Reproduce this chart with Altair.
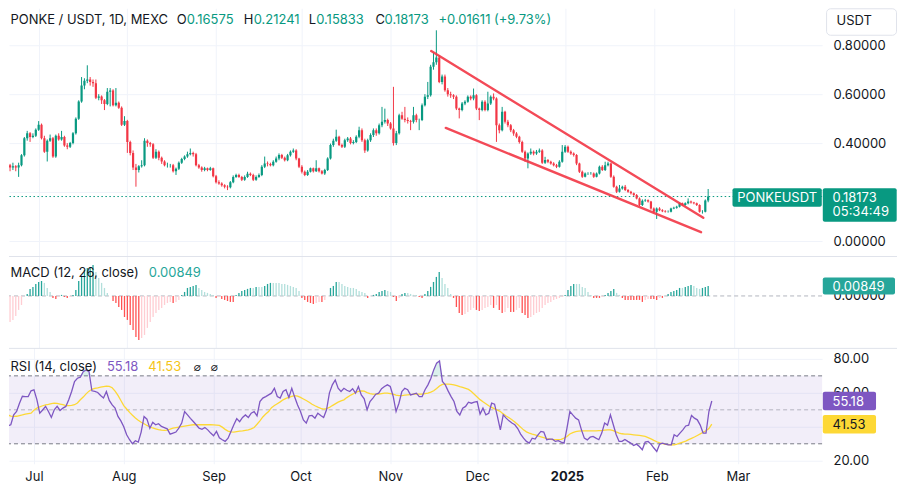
import altair as alt
import numpy as np
import pandas as pd

# ---------------- data ----------------
START_DATE = "2024-06-20"
FIRST_OPEN = 0.33

closes = [
    0.31, 0.30, 0.305, 0.30, 0.31, 0.35, 0.42, 0.44, 0.425, 0.43,
    0.455, 0.475, 0.42, 0.365, 0.41, 0.42, 0.345, 0.43, 0.415, 0.425,
    0.39, 0.385, 0.40, 0.44, 0.50, 0.57, 0.635, 0.655, 0.66, 0.65,
    0.645, 0.585, 0.59, 0.575, 0.56, 0.61, 0.615, 0.555, 0.565, 0.545,
    0.475, 0.49, 0.405, 0.36, 0.30, 0.29, 0.305, 0.31, 0.41, 0.40,
    0.395, 0.34, 0.365, 0.34, 0.325, 0.31, 0.31, 0.31, 0.285, 0.295,
    0.32, 0.335, 0.345, 0.355, 0.36, 0.355, 0.31, 0.30, 0.29, 0.297,
    0.29, 0.297, 0.265, 0.24, 0.235, 0.228, 0.222, 0.22, 0.24, 0.262,
    0.27, 0.262, 0.25, 0.262, 0.275, 0.27, 0.25, 0.262, 0.27, 0.303,
    0.317, 0.315, 0.31, 0.324, 0.337, 0.351, 0.34, 0.33, 0.35, 0.365,
    0.37, 0.337, 0.303, 0.283, 0.27, 0.283, 0.297, 0.285, 0.297, 0.285,
    0.276, 0.29, 0.337, 0.392, 0.41, 0.426, 0.392, 0.385, 0.412, 0.419,
    0.40, 0.405, 0.426, 0.453, 0.412, 0.37, 0.412, 0.433, 0.453, 0.44,
    0.473, 0.487, 0.494, 0.48, 0.46, 0.40, 0.44, 0.514, 0.50, 0.494,
    0.49, 0.487, 0.514, 0.494, 0.494, 0.555, 0.589, 0.596, 0.712, 0.73,
    0.75, 0.65, 0.672, 0.616, 0.60, 0.596, 0.589, 0.541, 0.535, 0.562,
    0.569, 0.589, 0.582, 0.596, 0.541, 0.535, 0.569, 0.535, 0.562, 0.589,
    0.582, 0.473, 0.453, 0.528, 0.487, 0.473, 0.453, 0.439, 0.426, 0.405,
    0.365, 0.337, 0.358, 0.365, 0.358, 0.365, 0.37, 0.32, 0.331, 0.324,
    0.317, 0.31, 0.303, 0.324, 0.365, 0.385, 0.365, 0.358, 0.351, 0.317,
    0.283, 0.263, 0.276, 0.276, 0.276, 0.263, 0.276, 0.303, 0.29, 0.31,
    0.317, 0.263, 0.222, 0.201, 0.215, 0.222, 0.208, 0.201, 0.195, 0.188,
    0.174, 0.147, 0.165, 0.167, 0.161, 0.133, 0.12, 0.133, 0.126, 0.122,
    0.12, 0.12, 0.133, 0.136, 0.14, 0.154, 0.147, 0.154, 0.161, 0.157,
    0.154, 0.147, 0.12, 0.12, 0.16575, 0.18173,
]

highs = [
    0.345, 0.315, 0.32, 0.31, 0.32, 0.355, 0.425, 0.45, 0.445, 0.44,
    0.46, 0.49, 0.48, 0.43, 0.415, 0.435, 0.425, 0.435, 0.44, 0.45,
    0.43, 0.40, 0.405, 0.445, 0.505, 0.575, 0.67, 0.665, 0.718, 0.67,
    0.66, 0.66, 0.60, 0.595, 0.58, 0.625, 0.625, 0.62, 0.625, 0.57,
    0.55, 0.51, 0.495, 0.41, 0.37, 0.315, 0.31, 0.33, 0.42, 0.415,
    0.405, 0.40, 0.375, 0.37, 0.345, 0.33, 0.32, 0.315, 0.315, 0.30,
    0.325, 0.34, 0.35, 0.365, 0.378, 0.365, 0.36, 0.315, 0.305, 0.303,
    0.30, 0.303, 0.30, 0.27, 0.248, 0.24, 0.232, 0.228, 0.245, 0.268,
    0.275, 0.275, 0.266, 0.268, 0.283, 0.28, 0.275, 0.268, 0.276, 0.31,
    0.345, 0.325, 0.32, 0.33, 0.345, 0.358, 0.356, 0.345, 0.356, 0.37,
    0.378, 0.375, 0.34, 0.31, 0.288, 0.29, 0.30, 0.30, 0.33, 0.30,
    0.29, 0.295, 0.342, 0.398, 0.418, 0.455, 0.43, 0.398, 0.418, 0.425,
    0.425, 0.412, 0.432, 0.467, 0.46, 0.418, 0.418, 0.44, 0.46, 0.46,
    0.48, 0.548, 0.541, 0.50, 0.486, 0.63, 0.45, 0.52, 0.528, 0.548,
    0.505, 0.495, 0.548, 0.52, 0.50, 0.562, 0.60, 0.65, 0.72, 0.77,
    0.861, 0.76, 0.68, 0.68, 0.625, 0.61, 0.60, 0.595, 0.545, 0.568,
    0.575, 0.595, 0.595, 0.623, 0.60, 0.545, 0.575, 0.575, 0.61, 0.595,
    0.603, 0.587, 0.48, 0.548, 0.532, 0.495, 0.478, 0.458, 0.445, 0.43,
    0.41, 0.37, 0.362, 0.378, 0.37, 0.372, 0.378, 0.375, 0.344, 0.335,
    0.328, 0.322, 0.315, 0.33, 0.392, 0.392, 0.39, 0.37, 0.362, 0.355,
    0.32, 0.288, 0.28, 0.281, 0.282, 0.28, 0.28, 0.308, 0.31, 0.324,
    0.324, 0.32, 0.268, 0.226, 0.229, 0.226, 0.229, 0.212, 0.205, 0.198,
    0.192, 0.178, 0.17, 0.172, 0.17, 0.164, 0.137, 0.137, 0.138, 0.13,
    0.126, 0.125, 0.136, 0.14, 0.144, 0.157, 0.157, 0.158, 0.174, 0.165,
    0.16, 0.157, 0.15, 0.126, 0.17, 0.21241,
]

lows = [
    0.295, 0.285, 0.29, 0.285, 0.262, 0.305, 0.345, 0.41, 0.405, 0.42,
    0.425, 0.45, 0.415, 0.36, 0.325, 0.405, 0.34, 0.34, 0.41, 0.41,
    0.385, 0.375, 0.38, 0.395, 0.435, 0.495, 0.565, 0.62, 0.645, 0.635,
    0.63, 0.58, 0.575, 0.56, 0.535, 0.555, 0.55, 0.55, 0.55, 0.54,
    0.47, 0.47, 0.36, 0.35, 0.29, 0.222, 0.28, 0.30, 0.305, 0.385,
    0.385, 0.335, 0.335, 0.33, 0.315, 0.305, 0.30, 0.30, 0.28, 0.27,
    0.29, 0.315, 0.33, 0.34, 0.35, 0.345, 0.305, 0.295, 0.283, 0.285,
    0.285, 0.287, 0.26, 0.235, 0.23, 0.222, 0.215, 0.208, 0.215, 0.236,
    0.258, 0.258, 0.245, 0.246, 0.258, 0.265, 0.245, 0.246, 0.258, 0.265,
    0.298, 0.305, 0.305, 0.305, 0.32, 0.33, 0.335, 0.325, 0.326, 0.345,
    0.36, 0.33, 0.298, 0.276, 0.265, 0.266, 0.28, 0.28, 0.282, 0.28,
    0.272, 0.27, 0.286, 0.333, 0.385, 0.405, 0.388, 0.38, 0.38, 0.405,
    0.395, 0.395, 0.40, 0.42, 0.405, 0.36, 0.365, 0.405, 0.425, 0.43,
    0.435, 0.465, 0.48, 0.47, 0.455, 0.39, 0.392, 0.435, 0.495, 0.485,
    0.48, 0.453, 0.48, 0.485, 0.453, 0.49, 0.55, 0.58, 0.59, 0.70,
    0.72, 0.645, 0.64, 0.61, 0.59, 0.585, 0.58, 0.535, 0.501, 0.53,
    0.555, 0.565, 0.575, 0.575, 0.535, 0.494, 0.53, 0.53, 0.53, 0.556,
    0.575, 0.405, 0.44, 0.448, 0.48, 0.465, 0.445, 0.43, 0.42, 0.398,
    0.36, 0.324, 0.297, 0.352, 0.35, 0.352, 0.36, 0.315, 0.315, 0.318,
    0.312, 0.305, 0.298, 0.30, 0.32, 0.36, 0.36, 0.352, 0.345, 0.31,
    0.278, 0.258, 0.26, 0.27, 0.271, 0.258, 0.26, 0.272, 0.286, 0.286,
    0.305, 0.258, 0.218, 0.196, 0.198, 0.21, 0.204, 0.197, 0.19, 0.183,
    0.17, 0.143, 0.143, 0.16, 0.157, 0.128, 0.115, 0.09, 0.122, 0.118,
    0.116, 0.116, 0.117, 0.13, 0.132, 0.137, 0.143, 0.144, 0.15, 0.153,
    0.15, 0.143, 0.116, 0.112, 0.117, 0.15833,
]

macd_hist = [
    -.0230, -.0221, -.0204, -.0170, -.0119, -.0077, 0, .0017, .0060, .0077,
    .0102, .0119, .0128, .0111, .0068, .0034, -.0017, -.0026, -.0009, .0009,
    -.0009, -.0017, -.0009, .0009, .0051, .0128, .0162, .0221, .0238, .0247,
    .0264, .0204, .0153, .0111, .0068, .0026, 0, -.0043, -.0060, -.0094,
    -.0119, -.0179, -.0204, -.0247, -.0289, -.0349, -.0374, -.0357, -.0332, -.0272,
    -.0221, -.0179, -.0145, -.0119, -.0102, -.0077, -.0060, -.0051, -.0060, -.0051,
    -.0034, .0009, .0034, .0068, .0077, .0085, .0094, .0068, .0051, .0034,
    .0026, .0017, .0009, -.0017, -.0009, -.0026, -.0034, -.0043, -.0051, -.0051,
    .0009, .0026, .0043, .0051, .0060, .0068, .0068, .0077, .0077, .0077,
    .0085, .0102, .0111, .0111, .0111, .0111, .0102, .0102, .0094, .0085,
    .0077, .0068, .0043, -.0017, -.0034, -.0051, -.0060, -.0068, -.0060, -.0051,
    -.0051, -.0034, 0, .0068, .0085, .0119, .0119, .0102, .0085, .0077,
    .0068, .0068, .0060, .0043, .0034, .0026, -.0017, 0, .0009, .0017,
    .0034, .0043, .0051, .0043, .0034, -.0009, -.0043, -.0017, .0017, .0026,
    .0026, .0017, .0009, .0009, -.0009, -.0017, .0017, .0043, .0077, .0119,
    .0162, .0204, .0153, .0102, .0068,
    .0017, -.0017, -.0094, -.0145, -.0162, -.0153, -.0136, -.0119, -.0102, -.0119,
    -.0128, -.0119, -.0102, -.0094, -.0077, -.0102, -.0077, -.0119, -.0145, -.0136,
    -.0102, -.0136, -.0136, -.0119, -.0102, -.0145, -.0162, -.0187, -.0179, -.0162,
    -.0145, -.0136, -.0102, -.0077, -.0060, -.0051, -.0034, -.0026, -.0017, -.0009,
    .0009, .0051, .0085, .0102, .0102, .0102, .0077, .0068, .0034, .0009,
    -.0017, -.0017, -.0017, -.0009, .0009, .0026, .0043, .0060, .0026, .0009,
    -.0017, -.0034, -.0034, -.0034, -.0034, -.0034, -.0034, -.0051, -.0034, -.0026,
    -.0026, -.0026, -.0034, -.0017, -.0017, 0, .0017, .0034, .0043, .0051,
    .0068, .0068, .0077, .0085, .0094, .0085, .0068, .0060, .0068, .0077,
    .00849,
]

rsi = [
    39.5, 40.6, 40.6, 41.2, 47, 49, 53.9, 58, 57.8, 57.8,
    61.2, 61.8, 56, 48, 49.9, 52, 49, 45.5, 50, 52,
    49.6, 51, 52, 55.9, 60.8, 66.7, 68.6, 69.2, 72.5, 73.5,
    72.5, 61.2, 60.8, 60.2, 58.4, 57, 60.8, 55.5, 52.9, 51,
    46.1, 43.5, 40, 35.3, 32.4, 30, 31.8, 31, 36.9, 46.1,
    44.5, 39.2, 42.7, 41.2, 41.8, 40.2, 39.5, 38.8, 35.7, 36.3,
    36.9, 39.2, 42.2, 49, 47, 45, 43.1, 41.2, 39.2, 38.5,
    39.6, 38.2, 36.3, 34.7, 37.3, 33.5, 32.4, 31.4, 33.3, 37.3,
    41.2, 44.8, 43, 45.5, 47, 45.5, 48, 49, 46.5, 54.9,
    56.9, 57.8, 58.8, 59.8, 62.7, 57.8, 56.9, 60.8, 61.8, 57.3,
    62.7, 57.5, 52.9, 49, 44.1, 42.2, 46.5, 46.7, 45.1, 48,
    46.7, 45.5, 50, 60, 64.7, 67.6, 62.7, 60.8, 62.7, 61.5,
    60.8, 62.4, 59.8, 63.7, 58.8, 56.5, 50, 54.9, 56.9, 59.2,
    59.8, 62.4, 63.7, 64.7, 63.7, 58, 49, 53.9, 60.8, 62.7,
    61.8, 58.8, 59.3, 59.8, 57.8, 57.8, 61.8, 64.7, 68.5, 73.5,
    77.5, 78.8, 66.7, 64.7, 61,
    57.8, 54.9, 49, 47, 51, 52, 54.5, 53.9, 54.5, 54.9,
    47.5, 51, 47, 48, 53.9, 53.3, 46, 38.2, 47, 45.1,
    43.5, 42.2, 41.2, 39, 35.7, 33.3, 31.4, 30.4, 33.3, 32.8,
    35.3, 37.3, 36.9, 32.4, 32.7, 32.7, 31.4, 31.8, 31, 30.4,
    39.2, 49, 47, 45.1, 44.1, 38.2, 33.3, 32.3, 33.9, 34.3,
    33.3, 32.4, 36.3, 42.2, 41, 47, 41.2, 35.3, 31.4, 31.4,
    32.5, 31.4, 30.4, 29, 29.8, 28.4, 26.5, 31, 31.4, 29.8,
    27.5, 25.5, 29.8, 30.4, 29.8, 29.4, 29.4, 35.3, 34.3, 36.3,
    38.2, 40.5, 41, 46.7, 45.1, 44.1, 41, 36.3, 36.3, 49,
    55.18,
]

rsi_ma = [
    50, 48.5, 47, 46.3, 46.1, 46.2, 46.6, 47, 47.5, 47.8,
    48, 49.8, 51, 51.8, 52.4, 52.9, 53.2, 53.6, 53.9, 53.8,
    53.4, 53, 52.5, 52.5, 52.6, 53, 54, 55.9, 57.5, 59.4,
    61, 62.1, 62.6, 62.9, 63.3, 63.6, 63.9, 63.8, 63, 61,
    58.5, 55.5, 52.5, 50.5, 48.5, 46.8, 45.2, 43.9, 42.7, 41.8,
    40.8, 39.9, 39.3, 38.8, 38.3, 38, 37.9, 38.1, 38.6, 39.2,
    39.5, 39.8, 40.1, 40.4, 40.7, 41, 41.2, 41.2, 41.2, 41.2,
    41.2, 41.2, 41.2, 41.1, 41, 40.8, 39.8, 38.5, 37.5, 37,
    36.9, 37.2, 37.4, 37.6, 37.9, 38.2, 38.8, 39.6, 41.5, 43.5,
    45.8, 47.5, 49, 51.3, 52.5, 53.6, 54.7, 55.9, 56.7, 57.3,
    57.9, 58.4, 58, 57.3, 56.4, 55.5, 54.5, 53.3, 52.4, 51.6,
    50.9, 50.4, 50.7, 51.4, 52.5, 53.5, 54.5, 55.3, 55.9, 57.2,
    58.3, 59.2, 60.2, 60.8, 61.1, 61, 60.1, 59.6, 59.3, 59.2,
    59.2, 59.6, 59.8, 59.8, 59.6, 59.2, 58.7, 58.4, 58.4, 58.6,
    58.8, 59, 59.2, 59.2, 59.2, 59.2, 59.5, 59.8, 60.4, 61.2,
    62.5, 64, 65, 65.1, 65.1, 65, 64.7, 64.3, 63.7, 63.2,
    62.6, 62, 60.8, 59.2, 57.6, 56, 54.7, 53.6, 52.4, 51.4,
    50.6, 49.8, 49, 47.6, 46.4, 45.3, 44.1, 42.8, 41.3, 39.8,
    38.2, 37, 36.3, 35.7, 35.3, 34.6, 34.1, 33.6, 33.1, 32.7,
    32.5, 32.4, 32.4, 32.6, 33.3, 34.3, 35.8, 36.6, 37.2, 37.4,
    37.6, 37.6, 37.6, 37.6, 37.6, 37.6, 37.7, 37.8, 38, 38.2,
    38.2, 37.8, 37, 36.3, 35.9, 35.7, 35.7, 35.5, 35.3, 35.1,
    34.9, 34.6, 34.3, 33.6, 32.9, 32, 31.2, 30.6, 30.1, 29.7,
    29.5, 29.4, 29.4, 29.8, 30.4, 31, 31.6, 32.4, 33.2, 34,
    34.9, 35.8, 36.8, 37.7, 39, 41.53,
]

month_starts = [(2024, 7), (2024, 8), (2024, 9), (2024, 10), (2024, 11),
                (2024, 12), (2025, 1), (2025, 2), (2025, 3)]
price_ticks = [0.0, 0.2, 0.4, 0.6, 0.8]
rsi_ticks = [20, 40, 60, 80]
rsi_bands = [70, 30]
rsi_mid = [50]

wedge_lines = ["upper", "upper", "lower", "lower"]
wedge_dates = ["2024-11-15T05:00:00", "2025-02-18T07:00:00",
               "2024-11-20T07:00:00", "2025-02-17T12:00:00"]
wedge_prices = [0.776, 0.095, 0.462, 0.036]

symbol_text = "PONKE / USDT, 1D, MEXC"
ohlc_labels = ["O", "H", "L", "C"]
ohlc_values = ["0.16575", "0.21241", "0.15833", "0.18173"]
change_text = "+0.01611 (+9.73%)"
countdown = "05:34:49"
macd_value = 0.00849
rsi_value = 55.18
rsi_ma_value = 41.53

# ---------------- styling ----------------
FONT = "Inter"
TXT = "#131722"
UP = "#089981"
DOWN = "#F23645"
GRID = "#f0f3fa"
SEP = "#e0e3eb"
PURPLE = "#7E57C2"
YELLOW = "#FDD835"
W = 814
H_PRICE, H_MACD, H_RSI = 248, 92, 116

# ---------------- frame ----------------
dates = pd.date_range(START_DATE, periods=len(closes), freq="D")
opens = [FIRST_OPEN] + closes[:-1]
df = pd.DataFrame({
    "date": dates.strftime("%Y-%m-%dT%H:%M:%S"),
    "open": opens, "high": highs, "low": lows, "close": closes,
    "hist": macd_hist, "rsi": rsi, "rsi_ma": rsi_ma,
})
df["dir"] = np.where(df["close"] >= df["open"], "up", "down")
prev = df["hist"].shift(1).fillna(0)
df["mcol"] = np.where(
    df["hist"] >= 0,
    np.where(prev < df["hist"], "#26A69A", "#B2DFDB"),
    np.where(prev < df["hist"], "#FFCDD2", "#FF5252"),
)
df["ob"] = df["rsi"].clip(lower=70)

wedge_df = pd.DataFrame({"line": wedge_lines, "date": wedge_dates, "price": wedge_prices})
ONE = pd.DataFrame({"k": [0]})

# ---------------- scales / axes ----------------
xscale = alt.Scale(domain=[alt.DateTime(year=2024, month=6, date=22, hours=9, minutes=6),
                           alt.DateTime(year=2025, month=3, date=30, hours=1, minutes=41)])
month_vals = [alt.DateTime(year=y, month=m, date=1) for y, m in month_starts]
ax_grid = alt.Axis(values=month_vals, grid=True, gridColor=GRID, labels=False,
                   ticks=False, domain=False, title=None)
ax_time = alt.Axis(values=month_vals, grid=True, gridColor=GRID, ticks=False, domain=False,
                   title=None, labelPadding=7, labelFontSize=13, labelColor=TXT,
                   labelExpr="month(datum.value) == 0 ? timeFormat(datum.value, '%Y') : timeFormat(datum.value, '%b')",
                   labelFontWeight={"condition": {"test": "month(datum.value) == 0", "value": "bold"},
                                    "value": "normal"})
XG = alt.X("date:T", scale=xscale, axis=ax_grid, title=None)
XT = alt.X("date:T", scale=xscale, axis=ax_time, title=None)

pscale = alt.Scale(domain=[-0.06122, 0.95102], nice=False, zero=False)
pax = alt.Axis(orient="right", values=price_ticks, grid=True, gridColor=GRID, ticks=False,
               tickSize=0, domain=False, labelPadding=11, title=None, labelFontSize=13,
               labelColor=TXT,
               labelExpr="datum.value == 0.2 ? '' : format(datum.value, '.5f')")
mscale = alt.Scale(domain=[-0.0442, 0.034], nice=False, zero=False)
max_ = alt.Axis(orient="right", values=[0], format=".5f", grid=False, ticks=False, tickSize=0,
                domain=False, labelPadding=11, title=None, labelFontSize=13, labelColor=TXT)
rscale = alt.Scale(domain=[18.24, 86.47], nice=False, zero=False)
rax = alt.Axis(orient="right", values=rsi_ticks, grid=True, gridColor=GRID,
               ticks=False, tickSize=0, domain=False, labelPadding=11, title=None,
               labelFontSize=13, labelColor=TXT,
               labelExpr="datum.value == 40 ? '' : format(datum.value, '.2f')")


def PY(field=None, datum=None):
    if datum is not None:
        return alt.Y(datum=datum, type="quantitative", scale=pscale, axis=pax, title=None)
    return alt.Y(field, type="quantitative", scale=pscale, axis=pax, title=None)


def MY(field=None, datum=None):
    if datum is not None:
        return alt.Y(datum=datum, type="quantitative", scale=mscale, axis=max_, title=None)
    return alt.Y(field, type="quantitative", scale=mscale, axis=max_, title=None)


def RY(field=None, datum=None):
    if datum is not None:
        return alt.Y(datum=datum, type="quantitative", scale=rscale, axis=rax, title=None)
    return alt.Y(field, type="quantitative", scale=rscale, axis=rax, title=None)


def txt(text, x, y, color=TXT, size=13, weight="normal", font=FONT, align="left"):
    return alt.Chart(ONE).mark_text(text=text, align=align, baseline="middle", color=color,
                                    fontSize=size, fontWeight=weight, font=font).encode(
        x=alt.value(x), y=alt.value(y))


def tag(Yf, v, x0, x1, top, bottom, fill, lines, text_color="white", x_text=824.5,
        align="left", size=13):
    layers = [alt.Chart(ONE).mark_rect(fill=fill, yOffset=top, y2Offset=bottom, cornerRadius=2).encode(
        x=alt.value(x0), x2=alt.value(x1), y=Yf(datum=v), y2=alt.Y2(datum=v))]
    for t, dy in lines:
        layers.append(alt.Chart(ONE).mark_text(text=t, align=align, baseline="middle", dy=dy,
                                               color=text_color, fontSize=size, font=FONT).encode(
            x=alt.value(x_text), y=Yf(datum=v)))
    return layers


dircolor = alt.Color("dir:N", scale=alt.Scale(domain=["up", "down"], range=[UP, DOWN]), legend=None)
base = alt.Chart(df)

# ---------------- price panel ----------------
wicks = base.mark_rule(strokeWidth=1, clip=True).encode(x=XG, y=PY("low"), y2="high:Q", color=dircolor)
bodies = base.mark_bar(size=2.2, clip=True).encode(x=XG, y=PY("open"), y2="close:Q", color=dircolor)
wedge = alt.Chart(wedge_df).mark_line(color=DOWN, strokeWidth=2.4, strokeCap="round", opacity=0.9,
                                      clip=True).encode(x=XG, y=PY("price"), detail="line:N")
last_line = alt.Chart(pd.DataFrame({"c": [closes[-1]]})).mark_rule(
    color=UP, strokeDash=[1.5, 2.5], strokeWidth=1).encode(y=PY("c"))

price_layers = [last_line, wicks, bodies, wedge]
price_layers.append(txt(symbol_text, 1.5, 12, size=13))
ohlc_x = [(168, 178), (235, 245), (300, 307.5), (367, 376)]
for (lx, vx), lab, val in zip(ohlc_x, ohlc_labels, ohlc_values):
    price_layers.append(txt(lab, lx, 12))
    price_layers.append(txt(val, vx, 12, color=UP))
price_layers.append(txt(change_text, 430, 12, color=UP))
# currency box
price_layers.append(alt.Chart(ONE).mark_rect(fill="white", stroke=SEP, strokeWidth=1, cornerRadius=4).encode(
    x=alt.value(818.5), x2=alt.value(888.5), y=alt.value(0.5), y2=alt.value(27)))
price_layers.append(txt("USDT", 828.5, 13))
# symbol + last price tags
price_layers += tag(PY, closes[-1], 724.3, 813.7, -8.2, 10.2, UP, [("PONKEUSDT", 1)],
                    x_text=769, align="center", size=13)
price_layers += tag(PY, closes[-1], 814.7, 888.7, -8.2, 25.2, UP,
                    [("%.5f" % closes[-1], 1), (countdown, 15.5)])
price = alt.layer(*price_layers).properties(width=W, height=H_PRICE)

# ---------------- MACD panel ----------------
sep_m = alt.Chart(ONE).mark_rule(color=SEP, strokeWidth=1).encode(
    x=alt.value(0), x2=alt.value(889), y=alt.value(0.5))
zero = alt.Chart(pd.DataFrame({"z": [0.0]})).mark_rule(color="#B2B5BE", strokeDash=[4, 3]).encode(y=MY("z"))
bars = base.mark_bar(size=1.3, clip=True).encode(
    x=XG, y=MY("hist"), y2=alt.Y2(datum=0), color=alt.Color("mcol:N", scale=None))
macd_layers = [zero, bars, sep_m,
               txt("MACD (12, 26, close)", 1.5, 17.3),
               txt("%.5f" % macd_value, 140, 17.3, color="#26A69A")]
macd_layers += tag(MY, macd_value, 814.7, 887, -8.5, 8.5, "#26A69A", [("%.5f" % macd_value, 1)])
macd = alt.layer(*macd_layers).properties(width=W, height=H_MACD)

# ---------------- RSI panel ----------------
rbase = alt.Chart(df)
band = alt.Chart(ONE).mark_rect(color=PURPLE, opacity=0.1).encode(
    x=alt.value(0), x2=alt.value(W), y=RY(datum=rsi_bands[0]), y2=alt.Y2(datum=rsi_bands[1]))
band_lines = alt.Chart(pd.DataFrame({"lv": rsi_bands})).mark_rule(
    color="#787B86", strokeDash=[4, 3], strokeWidth=1).encode(y=RY("lv"))
mid_line = alt.Chart(pd.DataFrame({"lv": rsi_mid})).mark_rule(
    color="#787B86", strokeDash=[4, 3], strokeWidth=1, opacity=0.5).encode(y=RY("lv"))
ob_area = rbase.mark_area(color=UP, opacity=0.15, clip=True).encode(
    x=XT, y=RY("ob"), y2=alt.Y2(datum=70))
ma_line = rbase.mark_line(color=YELLOW, strokeWidth=1.3, clip=True).encode(x=XT, y=RY("rsi_ma"))
rsi_line = rbase.mark_line(color=PURPLE, strokeWidth=1.3, clip=True).encode(x=XT, y=RY("rsi"))
sep_r = alt.Chart(ONE).mark_rule(color=SEP, strokeWidth=1).encode(
    x=alt.value(0), x2=alt.value(889), y=alt.value(0.5))
rsi_layers = [band, band_lines, mid_line, ob_area, ma_line, rsi_line, sep_r,
              txt("RSI (14, close)", 1.5, 18.7),
              txt("%.2f" % rsi_value, 98, 18.7, color=PURPLE),
              txt("%.2f" % rsi_ma_value, 139.5, 18.7, color="#F5C518"),
              txt("\u2300", 185, 18.7, font="DejaVu Sans", size=12),
              txt("\u2300", 202, 18.7, font="DejaVu Sans", size=12)]
rsi_layers += tag(RY, rsi_value, 814.7, 868, -9.2, 9.2, PURPLE, [("%.2f" % rsi_value, 1)])
rsi_layers += tag(RY, rsi_ma_value, 814.7, 868, -9.2, 9.2, YELLOW, [("%.2f" % rsi_ma_value, 1)],
                  text_color=TXT)
rsi_chart = alt.layer(*rsi_layers).properties(width=W, height=H_RSI)

chart = alt.vconcat(price, macd, rsi_chart, spacing=0, bounds="flush").properties(
    padding=0, background="white"
).configure_view(strokeWidth=0).configure_axis(labelFont=FONT).configure_text(font=FONT)

chart.save("out.html", embed_options={"renderer": "svg", "actions": False})
